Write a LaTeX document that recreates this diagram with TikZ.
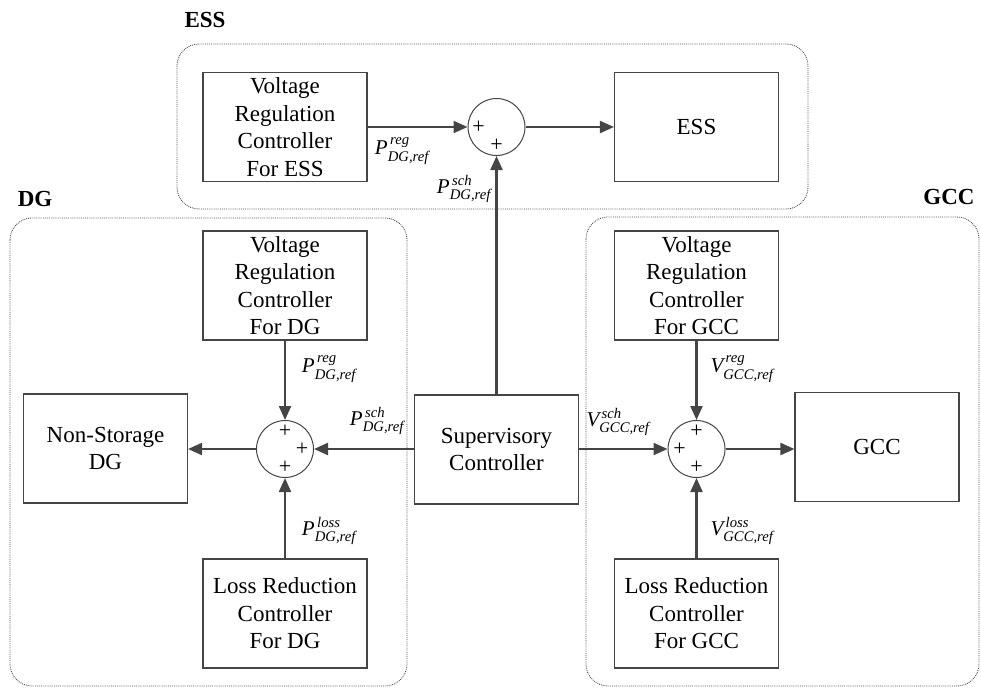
\documentclass[tikz,border=0pt]{standalone}
\usepackage{amsmath}
\usepackage{fontspec}
\setmainfont{Liberation Serif}
\usetikzlibrary{arrows.meta}
\definecolor{linegray}{HTML}{454545}
\definecolor{framegray}{HTML}{505050}
\newcommand{\sig}[3]{$\textit{#1}^{\,\textit{#2}}_{\textit{#3}}$}
\begin{document}
\begin{tikzpicture}[x=1pt,y=-1pt,
  box/.style={draw=linegray,line width=1.1pt,minimum width=164pt,minimum height=109pt,
    align=center,inner sep=2pt,font=\fontsize{23}{27.5}\selectfont},
  sumnode/.style={draw=linegray,line width=1pt,circle,minimum size=57pt,inner sep=0pt},
  pl/.style={font=\fontsize{22}{22}\selectfont,inner sep=0pt},
  frame/.style={draw=framegray,densely dotted,line width=0.9pt,rounded corners=22pt},
  grouplabel/.style={font=\fontsize{23}{23}\selectfont\bfseries,inner sep=0pt},
  sigl/.style={font=\fontsize{21}{24}\selectfont,inner sep=0pt},
  flow/.style={draw=linegray,line width=2.2pt,-{Triangle[length=14pt,width=12pt]}}
]
\useasboundingbox (0,0) rectangle (981,688);

% group frames
\draw[frame] (177,44) rectangle (808,209);
\draw[frame] (10,218) rectangle (407,686);
\draw[frame] (586,217) rectangle (979,686);

\node[grouplabel] (lESS) at (205,20) {ESS};
\node[grouplabel] (lDG) at (35,199) {DG};
\node[grouplabel] (lGCC) at (949,197) {GCC};

% ESS branch
\node[box] (vrcE) at (285,127) {Voltage\\Regulation\\Controller\\For ESS};
\node[sumnode] (sE) at (496.5,127) {};
\node[box] (ess) at (696.5,127) {ESS};
\node[pl] (pE1) at ([xshift=-18pt]sE.center) {+};
\node[pl] (pE2) at ([yshift=-18pt]sE.center) {+};

% DG branch
\node[box] (vrcD) at (285,285.5) {Voltage\\Regulation\\Controller\\For DG};
\node[box] (lrcD) at (285,613.5) {Loss Reduction\\Controller\\For DG};
\node[box] (nsdg) at (105.5,448.5) {Non-Storage\\DG};
\node[sumnode] (sD) at (285,449) {};
\node[pl] (pD1) at ([yshift=18pt]sD.center) {+};
\node[pl] (pD2) at ([xshift=17pt]sD.center) {+};
\node[pl] (pD3) at ([yshift=-18pt]sD.center) {+};

% supervisory controller
\node[box] (sup) at (496.5,449.5) {Supervisory\\Controller};

% GCC branch
\node[box] (vrcG) at (696.5,285.5) {Voltage\\Regulation\\Controller\\For GCC};
\node[box] (lrcG) at (696.5,613.5) {Loss Reduction\\Controller\\For GCC};
\node[box] (gcc) at (877,447) {GCC};
\node[sumnode] (sG) at (696.5,449) {};
\node[pl] (pG1) at ([yshift=18pt]sG.center) {+};
\node[pl] (pG2) at ([xshift=-17pt]sG.center) {+};
\node[pl] (pG3) at ([yshift=-18pt]sG.center) {+};

% signal flow
\draw[flow] (vrcE.east) -- (sE.west);
\draw[flow] (sE.east) -- (ess.west);
\draw[flow] (sup.north) -- (sE.south);
\draw[flow] (vrcD.south) -- (sD.north);
\draw[flow] (lrcD.north) -- (sD.south);
\draw[flow] (sup.west |- sD.east) -- (sD.east);
\draw[flow] (sD.west) -- (nsdg.east |- sD.west);
\draw[flow] (vrcG.south) -- (sG.north);
\draw[flow] (lrcG.north) -- (sG.south);
\draw[flow] (sup.east |- sG.west) -- (sG.west);
\draw[flow] (sG.east) -- (gcc.west |- sG.east);

% signal labels
\node[sigl] (tE1) at (402,151) {\sig{P}{reg}{DG,ref}};
\node[sigl] (tE2) at (464,189) {\sig{P}{sch}{DG,ref}};
\node[sigl] (tD1) at (329,369) {\sig{P}{reg}{DG,ref}};
\node[sigl] (tD2) at (377,421) {\sig{P}{sch}{DG,ref}};
\node[sigl] (tD3) at (329,531) {\sig{P}{loss}{DG,ref}};
\node[sigl] (tG1) at (742,369) {\sig{V}{reg}{GCC,ref}};
\node[sigl] (tG2) at (618,422) {\sig{V}{sch}{GCC,ref}};
\node[sigl] (tG3) at (742,531) {\sig{V}{loss}{GCC,ref}};
\end{tikzpicture}
\end{document}
